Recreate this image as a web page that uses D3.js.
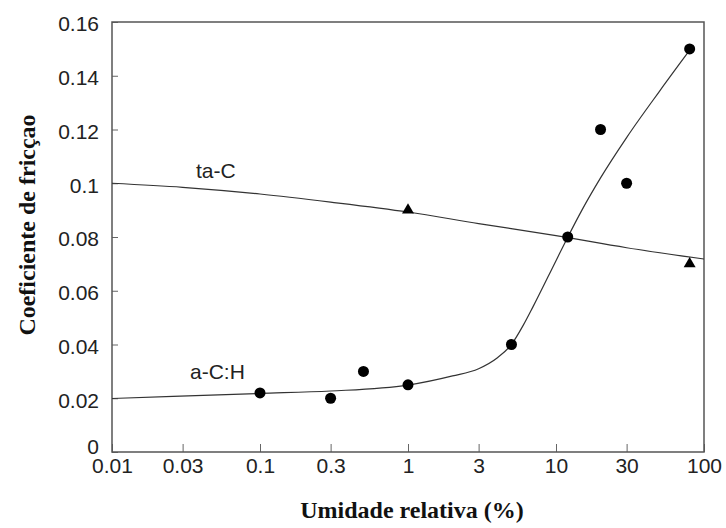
<!DOCTYPE html>
<html lang="pt">
<head>
  <meta charset="UTF-8">
  <title>Coeficiente de fricção</title>
  <style>
    body {
      margin: 0;
      background: #fff;
    }
    svg text.tick-lbl {
      font-family: "Liberation Sans", Arial, sans-serif;
      font-size: 21px;
      fill: #222;
    }
    svg .title {
      font-family: "Liberation Serif", "Times New Roman", serif;
      font-weight: bold;
      font-size: 24px;
      fill: #111;
    }
  </style>
</head>
<body>
  <svg></svg>
<script src="https://cdn.jsdelivr.net/npm/d3@7"></script>
<script>
  var width = 726
  var height = 528
  var margin = {top: 22, right: 22, bottom: 76, left: 112}

  // measured points
  var acHumidity = [0.1, 0.3, 0.5, 1, 5, 12, 20, 30, 80]
  var acFriction = [0.022, 0.02, 0.03, 0.025, 0.04, 0.08, 0.12, 0.1, 0.15]
  var tacHumidity = [1, 80]
  var tacFriction = [0.09, 0.07]

  // fitted curves
  var acCurveX = [0.01, 0.1, 0.3, 1, 2, 3, 4, 5, 6, 7, 10, 12, 15, 20, 30, 50, 80]
  var acCurveY = [0.0199, 0.0218, 0.0227, 0.0249, 0.0283, 0.031, 0.035, 0.04, 0.0471, 0.0541, 0.0712, 0.0799, 0.0901, 0.102, 0.117, 0.1342, 0.1495]
  var tacCurveX = [0.01, 0.03, 0.1, 0.3, 1, 3, 10, 30, 100]
  var tacCurveY = [0.1, 0.0985, 0.096, 0.093, 0.0893, 0.085, 0.0805, 0.076, 0.0718]

  var xTicks = [0.01, 0.03, 0.1, 0.3, 1, 3, 10, 30, 100]
  var yTicks = [0, 0.02, 0.04, 0.06, 0.08, 0.1, 0.12, 0.14, 0.16]

  var svg = d3.select('svg')
    .attr('width', width)
    .attr('height', height)

  var x = d3.scaleLog().domain([0.01, 100]).range([margin.left, width - margin.right])
  var y = d3.scaleLinear().domain([0, 0.16]).range([height - margin.bottom, margin.top])

  // minor ticks on the log axis: 2..9 in each decade
  var xMinor = []
  ;[0.01, 0.1, 1, 10].forEach(dec => {
    d3.range(2, 10).forEach(m => xMinor.push(+(dec * m).toPrecision(3)))
  })
  var yMinor = d3.range(0.01, 0.16, 0.02)

  var gx = svg.append('g').attr('transform', `translate(0,${y(0)})`)
  gx.call(d3.axisBottom(x).tickValues(xMinor).tickSize(-4).tickFormat(''))
  gx.call(d3.axisBottom(x).tickValues(xTicks).tickSize(-8).tickPadding(6).tickFormat(d => d))
  gx.selectAll('.domain').remove()

  var gy = svg.append('g').attr('transform', `translate(${x(0.01)},0)`)
  gy.call(d3.axisLeft(y).tickValues(yMinor).tickSize(-5).tickFormat(''))
  gy.call(d3.axisLeft(y).tickValues(yTicks).tickSize(-6).tickPadding(13).tickFormat(d => String(d)))
  gy.selectAll('.domain').remove()

  svg.selectAll('.tick line').attr('stroke', '#666')
  svg.selectAll('.tick text')
    .attr('class', 'tick-lbl')
    .attr('font-family', null)
    .attr('font-size', null)
  gy.selectAll('.tick text')
    .attr('dy', d => d === 0 ? '0.05em' : '0.42em')

  // frame
  svg.append('rect')
    .attr('x', x(0.01))
    .attr('y', y(0.16))
    .attr('width', x(100) - x(0.01))
    .attr('height', y(0) - y(0.16))
    .attr('fill', 'none')
    .attr('stroke', '#555')
    .attr('stroke-width', 1.5)

  var line = d3.line()
    .x(d => x(d[0]))
    .y(d => y(d[1]))
    .curve(d3.curveMonotoneX)

  svg.append('path')
    .attr('d', line(d3.zip(tacCurveX, tacCurveY)))
    .attr('fill', 'none')
    .attr('stroke', '#333')
    .attr('stroke-width', 1.2)

  svg.append('path')
    .attr('d', line(d3.zip(acCurveX, acCurveY)))
    .attr('fill', 'none')
    .attr('stroke', '#333')
    .attr('stroke-width', 1.2)

  svg.selectAll('circle')
    .data(d3.zip(acHumidity, acFriction))
    .enter()
    .append('circle')
    .attr('cx', d => x(d[0]))
    .attr('cy', d => y(d[1]))
    .attr('r', 5.5)
    .attr('fill', '#000')

  svg.selectAll('path.tri')
    .data(d3.zip(tacHumidity, tacFriction))
    .enter()
    .append('path')
    .attr('class', 'tri')
    .attr('d', d3.symbol().type(d3.symbolTriangle).size(62))
    .attr('transform', d => `translate(${x(d[0])},${y(d[1])})`)
    .attr('fill', '#000')

  // curve labels
  svg.append('text')
    .attr('class', 'tick-lbl')
    .attr('x', 196)
    .attr('y', 178)
    .text('ta-C')

  svg.append('text')
    .attr('class', 'tick-lbl')
    .attr('x', 190)
    .attr('y', 379)
    .text('a-C:H')

  // axis titles
  svg.append('text')
    .attr('class', 'title')
    .attr('text-anchor', 'middle')
    .attr('x', (x(0.01) + x(100)) / 2 + 4)
    .attr('y', 518)
    .text('Umidade relativa (%)')

  svg.append('text')
    .attr('class', 'title')
    .attr('text-anchor', 'middle')
    .attr('transform', `translate(35,${(y(0) + y(0.16)) / 2 - 12}) rotate(-90)`)
    .text('Coeficiente de fricçao')
</script>
</body>
</html>
